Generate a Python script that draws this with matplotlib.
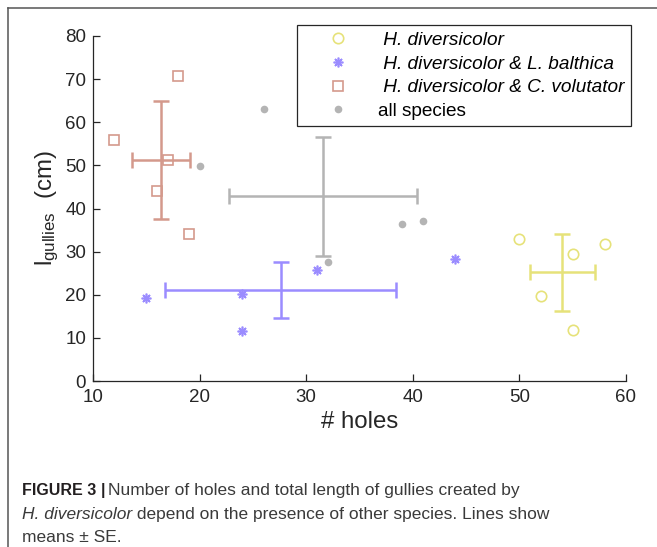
import matplotlib
matplotlib.use('Agg')
import matplotlib.pyplot as plt
from matplotlib.lines import Line2D

plt.rcParams['font.family'] = ['Liberation Sans', 'DejaVu Sans']
plt.rcParams['mathtext.fontset'] = 'custom'
plt.rcParams['mathtext.rm'] = 'Liberation Sans'

# raw points (# holes, l_gullies in cm)
hd_holes = [50, 52, 55, 55, 58]
hd_gullies = [32.9, 19.8, 29.4, 11.8, 31.7]
lb_holes = [15, 24, 24, 31, 44]
lb_gullies = [19.3, 20.1, 11.5, 25.8, 28.2]
cv_holes = [12, 16, 17, 18, 19]
cv_gullies = [55.9, 44.1, 51.2, 70.8, 34.1]
all_holes = [20, 26, 32, 39, 41]
all_gullies = [49.9, 63.0, 27.6, 36.4, 37.0]

# means and error bars as drawn
group_names = ['H. diversicolor', 'H. diversicolor & L. balthica',
               'H. diversicolor & C. volutator', 'all species']
mean_holes = [54.0, 27.6, 16.4, 31.6]
mean_gullies = [25.2, 21.0, 51.2, 42.8]
se_holes = [3.05, 10.8, 2.7, 8.8]
se_gullies = [9.0, 6.5, 13.7, 13.75]

colors = ['#e6e27a', '#9b8cff', '#d4998c', '#b4b4b4']

fig = plt.figure(figsize=(6.57, 5.47), dpi=100)
ax = fig.add_axes([93 / 657, 1 - 381 / 547, 533 / 657, 345 / 547])

ax.plot(hd_holes, hd_gullies, 'o', mfc='none', mec=colors[0], ms=7.5, mew=1.2)
ax.plot(lb_holes, lb_gullies, marker=(8, 2, 0), ls='none', color=colors[1], ms=7, mew=1.2)
ax.plot(cv_holes, cv_gullies, 's', mfc='none', mec=colors[2], ms=6.5, mew=1.2)
ax.plot(all_holes, all_gullies, 'o', color=colors[3], ms=5.5, mew=0)

for i in range(4):
    ax.errorbar(mean_holes[i], mean_gullies[i], xerr=se_holes[i], yerr=se_gullies[i],
                fmt='none', ecolor=colors[i], elinewidth=1.8, capsize=5.5, capthick=1.8)

ax.set_xlim(10, 60)
ax.set_ylim(0, 80)
ax.set_xticks(range(10, 61, 10))
ax.set_yticks(range(0, 81, 10))
ax.spines['top'].set_visible(False)
ax.spines['right'].set_visible(False)
for s in ['left', 'bottom']:
    ax.spines[s].set_color('#262626')
    ax.spines[s].set_linewidth(0.9)
ax.tick_params(direction='in', length=5, width=0.9, colors='#262626', labelsize=13.5)
ax.tick_params(axis='x', pad=6)
ax.tick_params(axis='y', pad=5)
ax.set_xlabel('# holes', fontsize=17.3, color='#262626', labelpad=3)
ax.set_ylabel(r'$\mathregular{l_{gullies}}$  (cm)', fontsize=17.3, color='#262626', labelpad=3)

# legend
handles = [
    Line2D([], [], ls='none', marker='o', mfc='none', mec=colors[0], ms=7.5, mew=1.2),
    Line2D([], [], ls='none', marker=(8, 2, 0), color=colors[1], ms=7, mew=1.2),
    Line2D([], [], ls='none', marker='s', mfc='none', mec=colors[2], ms=6.5, mew=1.2),
    Line2D([], [], ls='none', marker='o', color=colors[3], ms=5.5, mew=0),
]
labels = [' ' + n for n in group_names[:3]] + [group_names[3]]
leg = fig.legend(handles, labels, loc='upper left', bbox_to_anchor=(297 / 657, 1 - 25 / 547),
                 bbox_transform=fig.transFigure, borderaxespad=0, fontsize=13.7,
                 handlelength=3.6, handletextpad=0.3, borderpad=0.35, labelspacing=0.33,
                 fancybox=False, framealpha=1, edgecolor='#262626', numpoints=1)
leg.get_frame().set_linewidth(0.9)
for t in leg.get_texts()[:3]:
    t.set_fontstyle('italic')

# frame around the figure panel
fig.add_artist(Line2D([8 / 657, 8 / 657], [0, 1 - 8 / 547], transform=fig.transFigure,
                      color='#555555', lw=1.1))
fig.add_artist(Line2D([8 / 657, 1], [1 - 8 / 547, 1 - 8 / 547], transform=fig.transFigure,
                      color='#555555', lw=1.1))

# caption
cap_size = 12.5
x0 = 22 / 657
t1 = fig.text(x0, 1 - 495 / 547, 'FIGURE 3', fontsize=11.5, fontweight='bold',
              color='#231f20', va='baseline')
bar = plt.annotate('|', xy=(1, 0), xycoords=t1, xytext=(3, 0), textcoords='offset points',
                   fontsize=11.5, fontweight='bold', color='#231f20', va='bottom',
                   annotation_clip=False)
plt.annotate('Number of holes and total length of gullies created by', xy=(1, 0), xycoords=bar,
             xytext=(2, 0), textcoords='offset points', fontsize=cap_size, color='#3a3a3a',
             va='bottom', annotation_clip=False)
t3 = fig.text(x0, 1 - 519 / 547, 'H. diversicolor', fontsize=cap_size, fontstyle='italic',
              color='#3a3a3a', va='baseline')
plt.annotate(' depend on the presence of other species. Lines show', xy=(1, 0), xycoords=t3,
             xytext=(0, 0), textcoords='offset points', fontsize=cap_size, color='#3a3a3a',
             va='bottom', annotation_clip=False)
fig.text(x0, 1 - 542 / 547, 'means \u00b1 SE.', fontsize=cap_size, color='#3a3a3a', va='baseline')

fig.savefig('out.png', dpi=100)
